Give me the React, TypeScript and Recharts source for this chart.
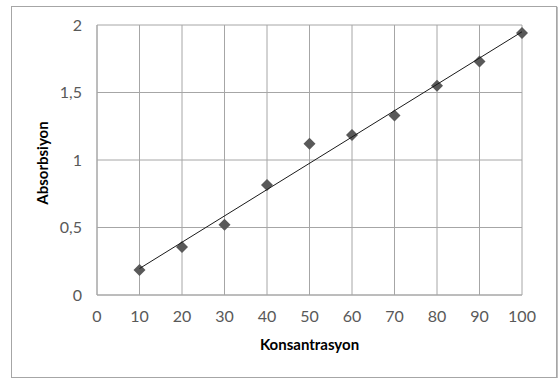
import { ScatterChart, Scatter, XAxis, YAxis, CartesianGrid } from 'recharts';

const concentrations = [10, 20, 30, 40, 50, 60, 70, 80, 90, 100];
const absorbances = [0.185, 0.356, 0.52, 0.815, 1.12, 1.185, 1.33, 1.55, 1.73, 1.94];
// linear trendline end points
const trendX = [10, 100];
const trendY = [0.196, 1.95];
const xTicks = [0, 10, 20, 30, 40, 50, 60, 70, 80, 90, 100];
const yTicks = [0, 0.5, 1, 1.5, 2];

const points = concentrations.map((x, i) => ({ x, y: absorbances[i] }));
const trend = trendX.map((x, i) => ({ x, y: trendY[i] }));

const FONT = 'Lato, "Open Sans", sans-serif';
const GRID = '#a6a6a6';

const Diamond = (props: any) => {
  const { cx, cy } = props;
  const r = 6;
  return (
    <polygon
      points={`${cx},${cy - r} ${cx + r},${cy} ${cx},${cy + r} ${cx - r},${cy}`}
      fill="#595959"
    />
  );
};

const Nothing = () => <g />;

export default function App() {
  return (
    <div style={{ position: 'absolute', left: 0, top: 0, width: 558, height: 378, background: '#fff' }}>
      <div
        style={{
          position: 'absolute',
          left: 11,
          top: 6,
          width: 546,
          height: 372,
          boxSizing: 'border-box',
          border: '1px solid #a6a6a6',
          boxShadow: '1px 1px 1px rgba(0,0,0,0.25)',
        }}
      />
      <div style={{ position: 'absolute', left: 0, top: 0 }}>
        <ScatterChart width={558} height={378} margin={{ top: 25, right: 36, left: 0, bottom: 0 }}>
          <CartesianGrid stroke={GRID} strokeWidth={1} />
          <XAxis
            type="number"
            dataKey="x"
            domain={[0, 100]}
            ticks={xTicks}
            interval={0}
            height={83}
            axisLine={{ stroke: GRID }}
            tickLine={false}
            tickSize={0}
            tickMargin={16}
            tick={{ fill: '#595959', fontSize: 16, fontFamily: FONT }}
            label={{
              content: (p: any) => {
                const vb = p.viewBox || {};
                return (
                  <text
                    x={vb.x + vb.width / 2}
                    y={vb.y + 55}
                    textAnchor="middle"
                    fontFamily={FONT}
                    fontWeight="bold"
                    fontSize={15}
                    fill="#000"
                  >
                    Konsantrasyon
                  </text>
                );
              },
            }}
          />
          <YAxis
            type="number"
            dataKey="y"
            domain={[0, 2]}
            ticks={yTicks}
            interval={0}
            width={97}
            axisLine={{ stroke: GRID }}
            tickLine={false}
            tickSize={0}
            tickMargin={15}
            tickFormatter={(v: number) => String(v).replace('.', ',')}
            tick={{ fill: '#595959', fontSize: 16, fontFamily: FONT }}
            label={{
              content: (p: any) => {
                const vb = p.viewBox || {};
                const cx = 48;
                const cy = vb.y + vb.height / 2 + 3;
                return (
                  <text
                    x={cx}
                    y={cy}
                    transform={`rotate(-90 ${cx} ${cy})`}
                    textAnchor="middle"
                    fontFamily={FONT}
                    fontWeight="bold"
                    fontSize={15}
                    fill="#000"
                  >
                    Absorbsiyon
                  </text>
                );
              },
            }}
          />
          <Scatter data={points} shape={Diamond} isAnimationActive={false} />
          <Scatter
            data={trend}
            line={{ stroke: '#1a1a1a', strokeWidth: 1 }}
            shape={Nothing}
            isAnimationActive={false}
          />
        </ScatterChart>
      </div>
    </div>
  );
}
